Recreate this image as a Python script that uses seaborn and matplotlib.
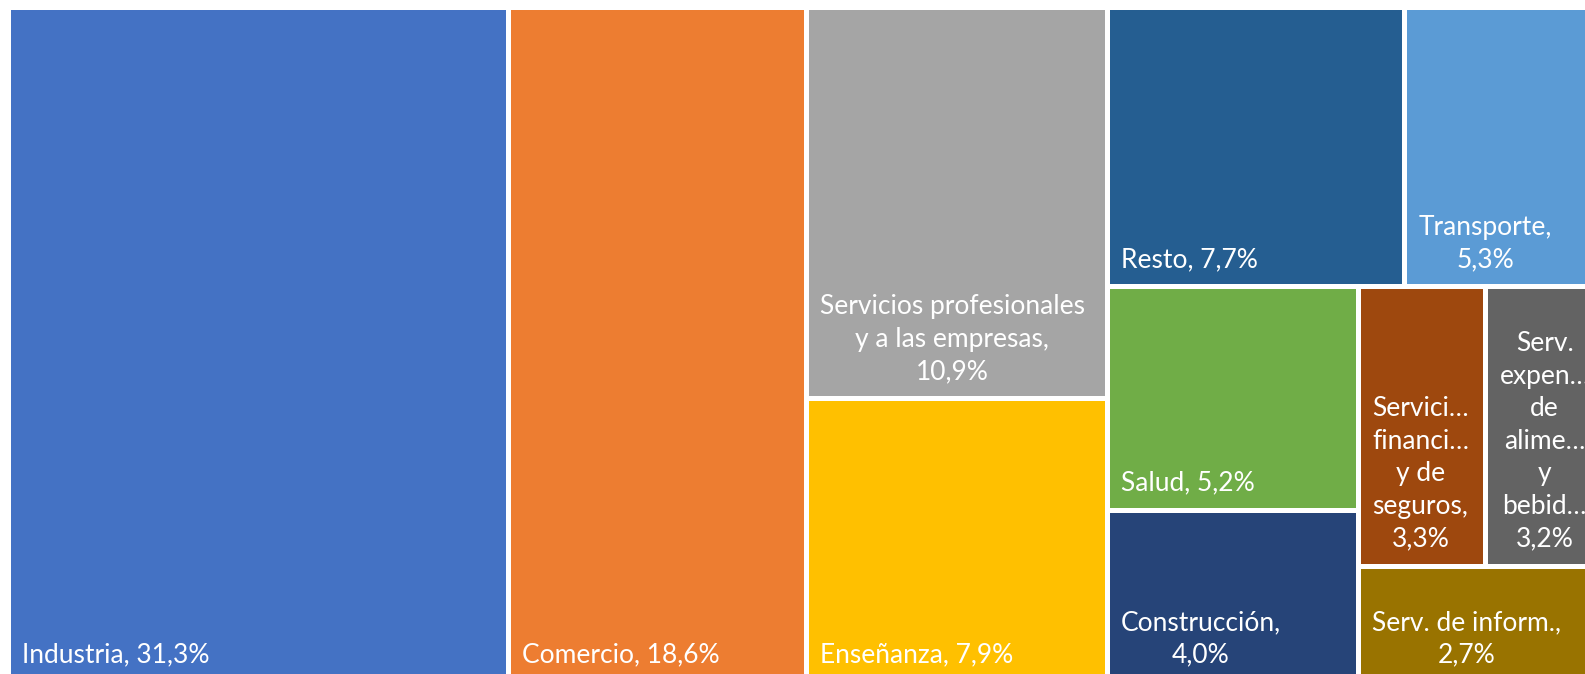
import matplotlib
matplotlib.use('Agg')
import matplotlib.pyplot as plt
import matplotlib.patches as mpatches
import matplotlib.transforms as mtransforms
import seaborn as sns

# datos del treemap (participación %)
sectores = ['Industria', 'Comercio', 'Servicios profesionales\ny a las empresas,',
            'Enseñanza', 'Resto', 'Transporte,', 'Salud', 'Construcción,',
            'Servici…\nfinanci…\ny de\nseguros,', 'Serv.\nexpen…\nde\nalime…\ny\nbebid…',
            'Serv. de inform.,']
valores = [31.3, 18.6, 10.9, 7.9, 7.7, 5.3, 5.2, 4.0, 3.3, 3.2, 2.7]
colores = ['#4472C4', '#ED7D31', '#A5A5A5', '#FFC000', '#255E91', '#5B9BD5',
           '#70AD47', '#264478', '#9E480E', '#636363', '#997300']

# estructura del treemap: 'h' = lado a lado, 'v' = apilado
estructura = ('h', [0, 1, ('v', [2, 3]),
                    ('v', [('h', [4, 5]),
                           ('h', [('v', [6, 7]),
                                  ('v', [('h', [8, 9]), 10])])])])


def suma(nodo):
    if isinstance(nodo, int):
        return valores[nodo]
    return sum(suma(n) for n in nodo[1])


def layout(nodo, x, y, w, h, out):
    if isinstance(nodo, int):
        out[nodo] = (x, y, w, h)
        return
    orient, hijos = nodo
    total = suma(nodo)
    pos = 0.0
    for hijo in hijos:
        frac = suma(hijo) / total
        if orient == 'h':
            layout(hijo, x + pos * w, y, frac * w, h, out)
        else:
            layout(hijo, x, y + pos * h, w, frac * h, out)
        pos += frac


W, H = sum(valores), 100.0
rects = {}
layout(estructura, 0, 0, W, H, rects)

sns.set_theme(style='white')
plt.rcParams['font.family'] = ['Lato', 'DejaVu Sans']

fig = plt.figure(figsize=(15.85, 6.74), dpi=100)
# el gráfico original está recortado a la derecha y abajo
ax = fig.add_axes([7.5 / 1585, -7.5 / 674, 1601.6 / 1585, 674.4 / 674])
ax.set_xlim(0, W)
ax.set_ylim(H, 0)
ax.axis('off')

textos = []
for i, (nombre, v, c) in enumerate(zip(sectores, valores, colores)):
    x, y, w, h = rects[i]
    ax.add_patch(mpatches.Rectangle((x, y), w, h, facecolor=c, edgecolor='white', linewidth=3.6))
    pct = f"{v:.1f}".replace('.', ',') + '%'
    if nombre.endswith(',') or '\n' in nombre:
        etiqueta = nombre + '\n' + pct
    else:
        etiqueta = f"{nombre}, {pct}"
    off = mtransforms.ScaledTranslation(14 / 100, 14 / 100, fig.dpi_scale_trans)
    t = ax.text(x, y + h, etiqueta, transform=ax.transData + off, ha='left', va='bottom',
                multialignment='center', color='white', fontsize=19, linespacing=1.38)
    textos.append((t, i))

# si la etiqueta no cabe, se centra en el rectángulo
fig.canvas.draw()
r = fig.canvas.get_renderer()
for t, i in textos:
    x, y, w, h = rects[i]
    ancho_px = ax.transData.transform((x + w, 0))[0] - ax.transData.transform((x, 0))[0]
    if t.get_window_extent(r).width > ancho_px - 28:
        off = mtransforms.ScaledTranslation(0, 14 / 100, fig.dpi_scale_trans)
        t.set_position((x + w / 2, y + h))
        t.set_transform(ax.transData + off)
        t.set_ha('center')

fig.savefig('out.png', dpi=100)
plt.close(fig)
